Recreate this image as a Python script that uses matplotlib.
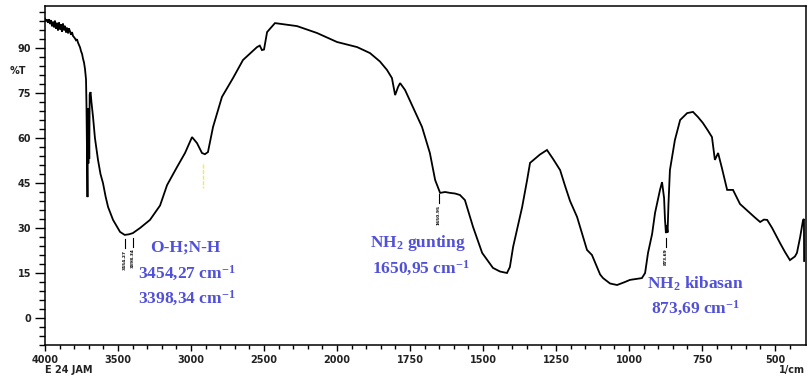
"""FTIR transmittance spectrum with labelled N-H / O-H bands."""

import matplotlib

matplotlib.use("Agg")
import matplotlib.pyplot as plt
import numpy as np

# wavenumber (1/cm) and transmittance (%T)
WAVENUMBER = [
    4000, 3993, 3986, 3980, 3973, 3966, 3959, 3952, 3945, 3938, 3932, 3925,
    3918, 3911, 3904, 3897, 3890, 3884, 3877, 3870, 3863, 3856, 3849, 3842,
    3836, 3829, 3822, 3815, 3808, 3801, 3795, 3788, 3781, 3774, 3767, 3760,
    3753, 3746, 3740, 3733, 3726, 3719, 3716, 3712, 3709, 3706, 3703, 3700,
    3697, 3694, 3688, 3682, 3671, 3658, 3637, 3620, 3603, 3585, 3568, 3534,
    3486, 3454.27, 3425, 3398.34, 3349, 3281, 3212, 3164, 3096, 3041, 2993,
    2959, 2925, 2905, 2884, 2849, 2788, 2712, 2644, 2548, 2529, 2514, 2500,
    2479, 2425, 2274, 2137, 2000, 1931, 1887, 1853, 1829, 1812, 1801, 1791,
    1784, 1767, 1740, 1709, 1682, 1664, 1650.95, 1647, 1630, 1613, 1596,
    1579, 1562, 1534, 1503, 1466, 1442, 1418, 1408, 1397, 1366, 1349, 1339,
    1305, 1281, 1260, 1236, 1219, 1202, 1178, 1144, 1134, 1127, 1099, 1089,
    1065, 1041, 1014, 997, 956, 945, 935, 921, 911, 894, 887, 880, 877,
    873.69, 871, 868, 865, 860, 843, 825, 801, 781, 764, 747, 730, 716, 706,
    695, 682, 664, 644, 620, 586, 569, 551, 538, 527, 510, 483, 466, 449,
    432, 425, 414, 404, 401, 400.5,
]
TRANSMITTANCE = [
    99.8, 99.0, 99.5, 98.4, 99.6, 98.0, 99.3, 97.2, 98.8, 96.9, 99.1, 96.5,
    98.4, 95.8, 98.6, 96.2, 97.9, 95.4, 98.2, 95.9, 97.4, 95.2, 96.8, 94.9,
    96.5, 95.6, 94.4, 95.3, 94.0, 93.6, 93.2, 92.6, 92.9, 91.8, 91.0, 90.2,
    88.9, 88.0, 86.5, 85.2, 83.0, 79.5, 71.0, 52.0, 40.3, 70.0, 51.5, 69.0,
    53.0, 74.5, 75.3, 72.0, 67.0, 60.0, 52.7, 48.0, 45.0, 40.5, 37.0, 32.7,
    28.7, 27.7, 27.9, 28.3, 30.0, 32.7, 37.5, 44.3, 50.3, 55.0, 60.3, 58.3,
    55.0, 54.6, 55.3, 63.7, 73.7, 80.0, 86.0, 90.3, 90.8, 89.3, 89.5, 95.3,
    98.3, 97.3, 95.0, 92.0, 90.3, 88.3, 85.5, 82.7, 80.0, 74.3, 77.0, 78.3,
    76.0, 70.3, 63.7, 55.0, 46.0, 42.7, 41.7, 42.0, 41.7, 41.5, 41.0, 39.3,
    30.3, 21.7, 16.7, 15.5, 15.0, 17.0, 23.7, 37.0, 46.0, 51.7, 54.5, 56.0,
    53.0, 49.3, 44.0, 39.0, 33.7, 22.7, 21.7, 21.0, 14.5, 13.3, 11.5, 11.0,
    12.0, 12.7, 13.3, 15.0, 21.7, 28.0, 35.0, 42.7, 45.3, 40.0, 33.0, 28.3,
    31.0, 28.5, 38.0, 49.3, 59.3, 66.0, 68.3, 68.7, 67.0, 65.0, 62.5, 60.3,
    52.7, 55.0, 50.0, 42.7, 42.7, 38.0, 35.0, 33.5, 32.0, 32.8, 32.7, 30.0,
    25.0, 22.0, 19.3, 20.5, 21.7, 27.0, 32.7, 33.0, 19.0,
]

X_MAJOR = [4000, 3500, 3000, 2500, 2000, 1750, 1500, 1250, 1000, 750, 500]
Y_MAJOR = [0, 15, 30, 45, 60, 75, 90]

PEAKS = [3454.27, 3398.34, 1650.95, 873.69]
CH_MARK = 2920

TEXT_BLUE = "#5050d8"
TICK_GREY = "#222222"

plt.rcParams["mathtext.fontset"] = "custom"
plt.rcParams["mathtext.rm"] = "Liberation Serif:bold"
plt.rcParams["mathtext.default"] = "rm"


def _fwd(x):
    # recorder halves the scale above 2000 1/cm
    x = np.asarray(x, dtype=float)
    return np.where(x > 2000, 2000 + (x - 2000) / 2, x)


def _inv(t):
    t = np.asarray(t, dtype=float)
    return np.where(t > 2000, 2000 + 2 * (t - 2000), t)


W, H = 808, 377
fig = plt.figure(figsize=(W / 100, H / 100), dpi=100)
ax = fig.add_axes([45 / W, 1 - 345 / H, (806 - 45) / W, (345 - 6) / H])

ax.plot(WAVENUMBER, TRANSMITTANCE, color="black", linewidth=1.3, solid_joinstyle="miter")

ax.set_xscale("function", functions=(_fwd, _inv))
ax.set_xlim(4000, 394)
ax.set_ylim(-9, 104)

minor_x = list(range(3900, 2000, -100)) + list(range(1950, 400, -50))
ax.set_xticks(X_MAJOR)
ax.set_xticks([m for m in minor_x if m not in X_MAJOR], minor=True)
ax.set_yticks(Y_MAJOR)
ax.set_yticks([v for v in range(-9, 104, 3) if v not in Y_MAJOR], minor=True)
ax.tick_params(axis="x", which="major", direction="out", length=4, width=1, pad=3,
               labelsize=7, labelcolor=TICK_GREY)
ax.tick_params(axis="x", which="minor", direction="out", length=3, width=1)
ax.tick_params(axis="y", which="major", direction="out", length=7, width=1, pad=3,
               labelsize=7, labelcolor=TICK_GREY)
ax.tick_params(axis="y", which="minor", direction="out", length=4, width=1)
for lbl in ax.get_xticklabels() + ax.get_yticklabels():
    lbl.set_fontweight("bold")
for spine in ax.spines.values():
    spine.set_linewidth(1.1)

# peak pick markers under the labelled bands
peak_t = dict(zip(WAVENUMBER, TRANSMITTANCE))
for wn in PEAKS:
    top = peak_t[wn] - 1.5
    ax.plot([wn, wn], [top, top - 3], color="black", linewidth=0.8)
    ax.text(wn, top - 3.5, f"{wn:.2f}", rotation=90, fontsize=3.2, ha="center", va="top",
            color="black", fontweight="bold")
ax.plot([CH_MARK, CH_MARK], [51.5, 43.5], color="#f5e65a", linewidth=1.0, linestyle=(0, (3, 1)))

fig.text(18 / W, 1 - 71 / H, "%T", fontsize=7, color=TICK_GREY, ha="center", va="center",
         fontweight="bold")
fig.text(45 / W, 1 - 370 / H, "E 24 JAM", fontsize=7, color=TICK_GREY, ha="left", va="center",
         fontweight="bold")
fig.text(805 / W, 1 - 370 / H, "1/cm", fontsize=7, color=TICK_GREY, ha="right", va="center",
         fontweight="bold")

label_kw = dict(fontsize=12.5, color=TEXT_BLUE, family="Liberation Serif", fontweight="bold",
                ha="left", va="center")
fig.text(150 / W, 1 - 248 / H, "O-H;N-H", **label_kw)
fig.text(138 / W, 1 - 273 / H, "3454,27 cm$^{-1}$", **label_kw)
fig.text(138 / W, 1 - 298 / H, "3398,34 cm$^{-1}$", **label_kw)
fig.text(370 / W, 1 - 243 / H, "NH$_2$ gunting", **label_kw)
fig.text(372 / W, 1 - 268 / H, "1650,95 cm$^{-1}$", **label_kw)
fig.text(647 / W, 1 - 284 / H, "NH$_2$ kibasan", **label_kw)
fig.text(651 / W, 1 - 308 / H, "873,69 cm$^{-1}$", **label_kw)

fig.savefig("out.png", dpi=100)
plt.close(fig)
